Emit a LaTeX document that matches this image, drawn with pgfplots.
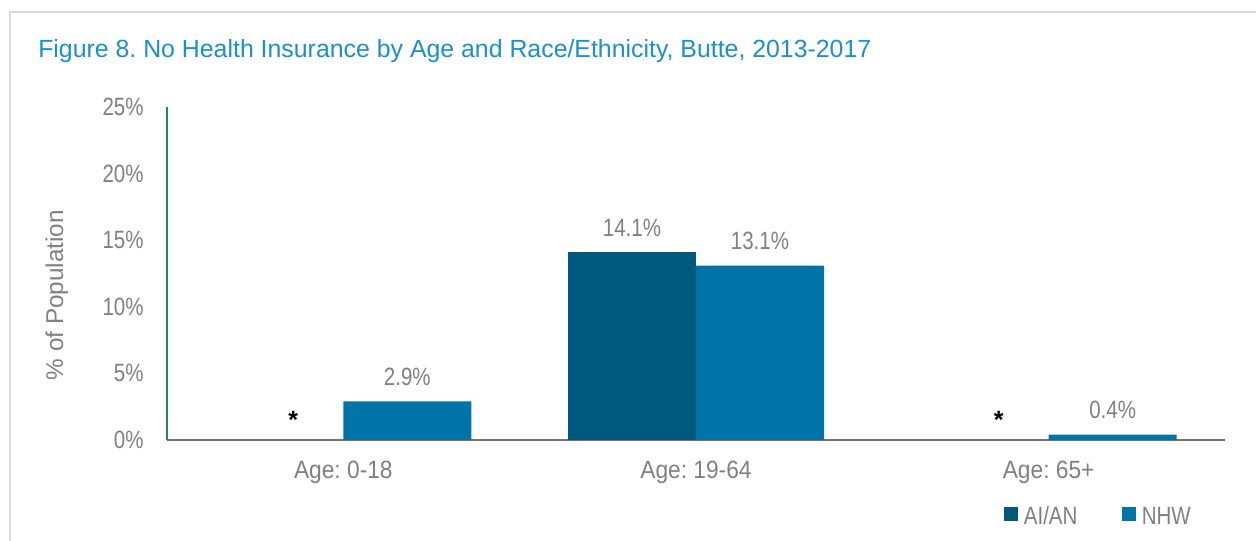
\documentclass[border=0pt]{standalone}
\usepackage{fontspec}
\setmainfont{Liberation Sans}[FakeStretch=0.82]
\newfontfamily\regfont{Liberation Sans}
\newfontfamily\catfont{Liberation Sans}[FakeStretch=0.91]
\usepackage{pgfplots}
\pgfplotsset{compat=1.18}
\definecolor{aian}{RGB}{0,88,124}
\definecolor{nhw}{RGB}{0,116,167}
\definecolor{titleblue}{RGB}{27,143,208}
\definecolor{txtgray}{RGB}{128,128,128}
\definecolor{axisgreen}{RGB}{40,130,110}
\definecolor{framegray}{RGB}{217,217,217}
\newcommand{\fs}{\fontsize{18.75}{21}\selectfont}
\frenchspacing
\begin{document}
\begin{tikzpicture}
\useasboundingbox (-125.25pt,-75.75pt) rectangle (816.75pt,330pt);
\draw[framegray, line width=1.5pt] (-117.75pt,-80pt) -- (-117.75pt,321pt) -- (820pt,321pt);
\node[anchor=base west, text=titleblue, font=\regfont\fontsize{18.65}{21}\selectfont, inner sep=0pt] at (-96.75pt,286.5pt) {Figure 8. No Health Insurance by Age and Race/Ethnicity, Butte, 2013-2017};
\begin{axis}[
  at={(0,0)}, anchor=south west,
  scale only axis, width=793.5pt, height=249.75pt,
  ybar,
  xmin=-0.5, xmax=2.5, ymin=0, ymax=25,
  xtick={0,1,2}, xticklabels={Age: 0-18, Age: 19-64, Age: 65+},
  ytick={0,5,10,15,20,25},
  yticklabel={\pgfmathprintnumber{\tick}\%},
  axis x line*=bottom, axis y line*=left,
  x axis line style={-, draw=black!55, line width=1.2pt},
  y axis line style={-, draw=axisgreen, line width=1.5pt},
  major tick length=0pt,
  ticklabel style={font=\fs, text=txtgray},
  yticklabel style={xshift=-14pt},
  xticklabel style={yshift=-12.25pt, font=\catfont\fs},
  /pgf/number format/assume math mode=true,
  ylabel={\% of Population},
  ylabel style={at={(axis description cs:-0.104,0.435)}, anchor=center, font=\regfont\fontsize{18.2}{21}\selectfont, text=txtgray},
  bar width=0.363,
  nodes near coords={\pgfmathprintnumber[fixed,precision=1,fixed zerofill]{\pgfplotspointmeta}\%},
  every node near coord/.append style={font=\fs, text=txtgray, yshift=8.25pt},
  legend style={at={(0.7873,-0.231)}, anchor=west, draw=none, fill=none, font=\fs, text=txtgray,
     legend columns=2, /tikz/every even column/.append style={column sep=31.5pt},
     legend cell align=left},
  legend image code/.code={\fill[#1] (0pt,-3pt) rectangle (10.5pt,7.5pt); \path (12.75pt,0pt);},
]
\addplot[fill=aian, draw=none, bar shift=-0.1815] coordinates {(1,14.1)};
\addlegendentry{AI/AN}
\addplot[fill=nhw, draw=none, bar shift=0.1815] coordinates {(0,2.9) (1,13.1) (2,0.4)};
\addlegendentry{NHW}
\addplot[draw=none, fill=none, bar shift=-0.1815, forget plot,
  nodes near coords={\regfont\textbf{*}},
  every node near coord/.append style={text=black, xshift=10.5pt, yshift=-3pt}]
  coordinates {(0,0) (2,0)};
\end{axis}
\end{tikzpicture}
\end{document}
